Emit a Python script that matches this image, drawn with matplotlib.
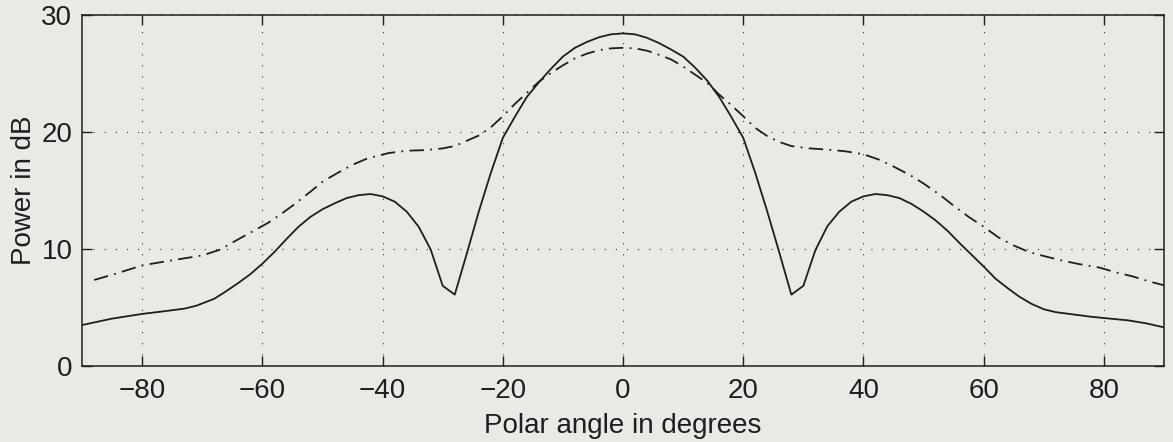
import matplotlib
matplotlib.use("Agg")
import matplotlib.pyplot as plt

plt.rcParams['font.family'] = ['Liberation Sans', 'DejaVu Sans']

# Pattern with the full aperture (solid line)
solid_angle = [-90, -85, -80, -76, -73, -71, -68, -66, -64, -62, -60, -58, -56,
               -54, -52, -50, -48, -46, -44, -42, -40, -38, -36, -34, -32, -30,
               -28, -26, -24, -22, -20, -18, -16, -14, -12, -10, -8, -6, -4, -2,
               0, 2, 4, 6, 8, 10, 12, 14, 16, 18, 20, 22, 24, 26, 28, 30, 32,
               34, 36, 38, 40, 42, 44, 46, 48, 50, 52, 54, 56, 58, 60, 62, 64,
               66, 68, 70, 72, 75, 78, 81, 84, 87, 90]
solid_db = [3.5, 4.05, 4.45, 4.7, 4.9, 5.15, 5.75, 6.4, 7.1, 7.85, 8.75, 9.75, 10.85,
            11.9, 12.75, 13.4, 13.9, 14.35, 14.6, 14.7, 14.5, 14.05, 13.2, 11.9, 9.95, 6.85,
            6.1, 9.6, 13.2, 16.5, 19.5, 21.3, 23.0, 24.25, 25.4, 26.45, 27.2, 27.7, 28.1, 28.35,
            28.43, 28.35, 28.05, 27.6, 27.05, 26.45, 25.5, 24.4, 23.0, 21.3, 19.5, 16.5, 13.2,
            9.7, 6.1, 6.85, 9.9, 11.95, 13.2, 14.05, 14.5, 14.7, 14.6, 14.35, 13.85, 13.2,
            12.45, 11.55, 10.5, 9.5, 8.5, 7.45, 6.65, 5.9, 5.3, 4.85, 4.6, 4.4, 4.2,
            4.05, 3.9, 3.65, 3.3]

# Pattern with the tapered aperture (dash-dot line)
dash_angle = [-88, -84, -80, -76, -73, -70, -67, -65, -62, -59, -57, -55, -52,
              -50, -47.5, -45, -42.5, -39, -36, -33, -30, -28, -26, -24, -22,
              -20, -18, -16, -14, -12, -10, -8, -6, -4, -2, 0, 2, 4, 6, 8, 10,
              12, 14, 16, 18, 20, 22, 24, 26, 28, 31, 34, 37, 40, 42.8, 45,
              47.8, 50, 52.8, 55, 57.5, 60, 62.5, 65, 67.5, 70, 73.3, 76,
              79.2, 82, 84.7, 87.8, 90]
dash_db = [7.35, 7.95, 8.6, 8.95, 9.2, 9.45, 9.95, 10.55, 11.4, 12.25, 12.95, 13.7, 14.9,
           15.75, 16.5, 17.2, 17.75, 18.2, 18.4, 18.45, 18.6, 18.8, 19.25, 19.7, 20.4,
           21.35, 22.4, 23.35, 24.3, 25.05, 25.7, 26.3, 26.7, 27.0, 27.15, 27.2, 27.15,
           26.95, 26.6, 26.2, 25.6, 24.9, 24.2, 23.2, 22.3, 21.35, 20.35, 19.65, 19.15,
           18.8, 18.6, 18.5, 18.35, 18.1, 17.6, 17.05, 16.3, 15.6, 14.6, 13.7, 12.75,
           11.9, 10.98, 10.3, 9.75, 9.4, 8.98, 8.7, 8.42, 8.0, 7.67, 7.19, 6.9]

x_ticks = [-80, -60, -40, -20, 0, 20, 40, 60, 80]
y_ticks = [0, 10, 20, 30]

bg = '#e9e9e5'
ink = '#1e1e1e'
fs = 20

fig = plt.figure(figsize=(11.73, 4.42), dpi=100, facecolor=bg)
ax = fig.add_axes([0.0700, 0.172, 0.9223, 0.794], facecolor=bg)

ax.plot(solid_angle, solid_db, color=ink, lw=1.3, solid_joinstyle='round')
ax.plot(dash_angle, dash_db, color=ink, lw=1.3, linestyle=(0, (8, 3.5, 1, 3.5)))

ax.set_xlim(-90, 90)
ax.set_ylim(0, 30)
ax.set_xticks(x_ticks)
ax.set_yticks(y_ticks)
ax.set_xticklabels(['\u2212%d' % -v if v < 0 else '%d' % v for v in x_ticks])

ax.grid(True, color='#333333', linestyle=(0, (1, 9)), lw=0.8)
ax.tick_params(direction='in', length=7.5, width=1.0, top=True, right=True,
               labelsize=fs, colors=ink)
ax.tick_params(axis='x', pad=9)
ax.tick_params(axis='y', pad=7)
for s in ax.spines.values():
    s.set_linewidth(1.1)
    s.set_color(ink)

ax.set_xlabel('Polar angle in degrees', fontsize=fs, color=ink, labelpad=6)
ax.set_ylabel('Power in dB', fontsize=fs, color=ink, labelpad=3)

fig.savefig('out.png', dpi=100, facecolor=bg)
